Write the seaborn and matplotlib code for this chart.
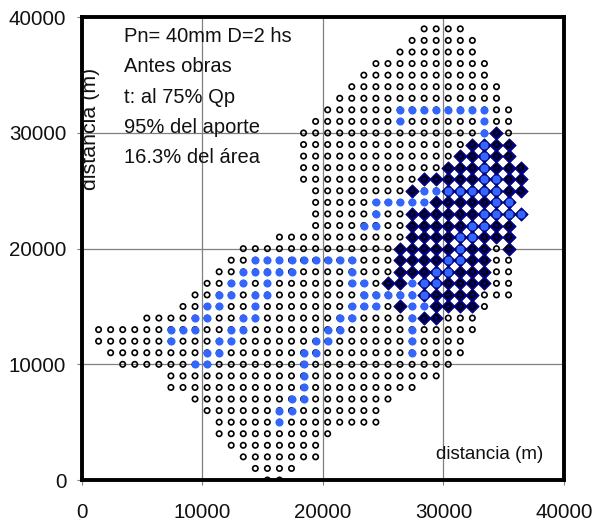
import matplotlib
matplotlib.use("Agg")
import matplotlib.pyplot as plt
import pandas as pd
import seaborn as sns

sns.set_theme(style="white")
plt.rcParams['font.family'] = ['Liberation Sans', 'DejaVu Sans']

# Grid: rows every 1000 m in y, columns every 1000 m in x, shifted 400 m
CELL = 1000
X_SHIFT = 400

row_first_col = [15, 14, 13, 12, 11, 11, 10, 9, 7, 7, 3, 2, 1, 1, 5, 8, 9, 10, 11, 12,
                 13, 16, 19, 19, 19, 19, 18, 18, 18, 18, 18, 19, 20, 21, 22, 23, 24, 26, 27, 28]
row_last_col = [16, 17, 19, 19, 20, 24, 24, 25, 27, 29, 30, 31, 31, 32, 32, 33, 35, 35, 35, 35,
                35, 35, 35, 36, 35, 36, 36, 36, 35, 35, 35, 35, 35, 34, 34, 33, 33, 32, 32, 31]

blue_rows = {
    5: [16], 6: [16, 17], 7: [17, 18], 8: [18], 9: [18],
    10: [9, 10, 18],
    11: [10, 11, 18, 19, 27],
    12: [7, 11, 12, 19, 20, 27],
    13: [7, 8, 9, 12, 13, 20, 21, 27],
    14: [9, 10, 13, 14, 21, 22, 27],
    15: [10, 11, 14, 22, 23, 24, 27, 28],
    16: [11, 12, 14, 15, 23, 24, 25, 26, 27, 28],
    17: [12, 13, 15, 22, 23, 27, 28, 29],
    18: [13, 14, 15, 16, 17, 22, 29, 30],
    19: [14, 15, 16, 17, 18, 19, 20, 21, 22, 30, 31],
    20: [31], 21: [31, 32],
    22: [23, 24, 32, 33],
    23: [24, 33, 34, 35, 36],
    24: [24, 25, 26, 27, 28, 34, 35],
    25: [28, 29, 30, 31, 32, 33, 34],
    26: [33, 34], 27: [33], 28: [33], 29: [33], 30: [33],
    31: [26, 33],
    32: [26, 27, 28, 29, 30, 31, 32, 33],
}

diamond_rows = {
    14: [28, 29],
    15: [26, 29, 30, 31, 32],
    16: [28, 29, 30, 31, 32],
    17: [25, 26, 28, 29, 30, 31, 32, 33],
    18: [26, 27, 28, 29, 30, 31, 32, 33],
    19: [26, 27, 28, 29, 30, 31, 32, 33],
    20: [26, 27, 28, 29, 30, 31, 32, 33, 35],
    21: [27, 28, 29, 30, 31, 32, 33, 34, 35],
    22: [27, 28, 29, 30, 31, 32, 33, 34, 35],
    23: [27, 28, 29, 30, 31, 32, 33, 34, 35, 36],
    24: [29, 30, 31, 32, 33, 34, 35],
    25: [27, 30, 31, 32, 33, 34, 35, 36],
    26: [28, 29, 30, 31, 32, 33, 34, 35, 36],
    27: [30, 31, 32, 33, 34, 35, 36],
    28: [31, 32, 33, 34, 35],
    29: [32, 33, 34, 35],
    30: [34],
}

tick_values = [0, 10000, 20000, 30000, 40000]
note_lines = ["Pn= 40mm D=2 hs", "Antes obras", "t: al 75% Qp", "95% del aporte", "16.3% del área"]
axis_label = "distancia (m)"


def frame(rows):
    pts = [(c * CELL + X_SHIFT, k * CELL) for k, cols in rows.items() for c in cols]
    return pd.DataFrame(pts, columns=["x", "y"])


all_rows = {k: list(range(a, b + 1)) for k, (a, b) in enumerate(zip(row_first_col, row_last_col))}

W, H = 598, 531
fig = plt.figure(figsize=(W / 100, H / 100), dpi=100, facecolor="white")
L, R, T, B = 81.7, 564.0, 17.3, 480.0
ax = fig.add_axes([L / W, 1 - B / H, (R - L) / W, (B - T) / H])
ax.set_facecolor("white")

ax.set_xlim(0, 40000)
ax.set_ylim(0, 40000)
ax.set_xticks(tick_values)
ax.set_yticks(tick_values)
ax.grid(True, color="#808080", linewidth=0.9)
ax.set_axisbelow(True)
ax.tick_params(axis="both", direction="out", length=3.6, width=0.8, color="#808080",
               labelsize=14.8, labelcolor="#111111", left=True, bottom=True)
ax.tick_params(axis="x", pad=13)
ax.tick_params(axis="y", pad=7.5)

sns.scatterplot(data=frame(diamond_rows), x="x", y="y", marker="D", s=46, color="#00007F",
                edgecolor="#00007F", linewidth=0.6, ax=ax, zorder=3)
sns.scatterplot(data=frame(all_rows), x="x", y="y", marker="o", s=15, facecolor="none",
                edgecolor="black", linewidth=1.2, ax=ax, zorder=4)
sns.scatterplot(data=frame(blue_rows), x="x", y="y", marker="o", s=34, color="#3366FF",
                edgecolor="#3366FF", linewidth=0, ax=ax, zorder=5)

ax.set_xlabel("")
ax.set_ylabel("")
for s in ax.spines.values():
    s.set_visible(True)
    s.set_color("black")
    s.set_linewidth(2.8)
    s.set_zorder(6)

note_base = [41.7, 72.5, 103, 133, 163]
for line, yb in zip(note_lines, note_base):
    fig.text(124.5 / W, 1 - yb / H, line, fontsize=14.5, color="#111111", ha="left", va="baseline")
fig.text(543 / W, 1 - 459 / H, axis_label, fontsize=13.5, color="#111111", ha="right", va="baseline")
fig.text(96.5 / W, 1 - 128.5 / H, axis_label, fontsize=15.4, color="#111111", rotation=90,
         ha="center", va="baseline", rotation_mode="anchor")

fig.savefig("out.png", dpi=100, facecolor="white")
